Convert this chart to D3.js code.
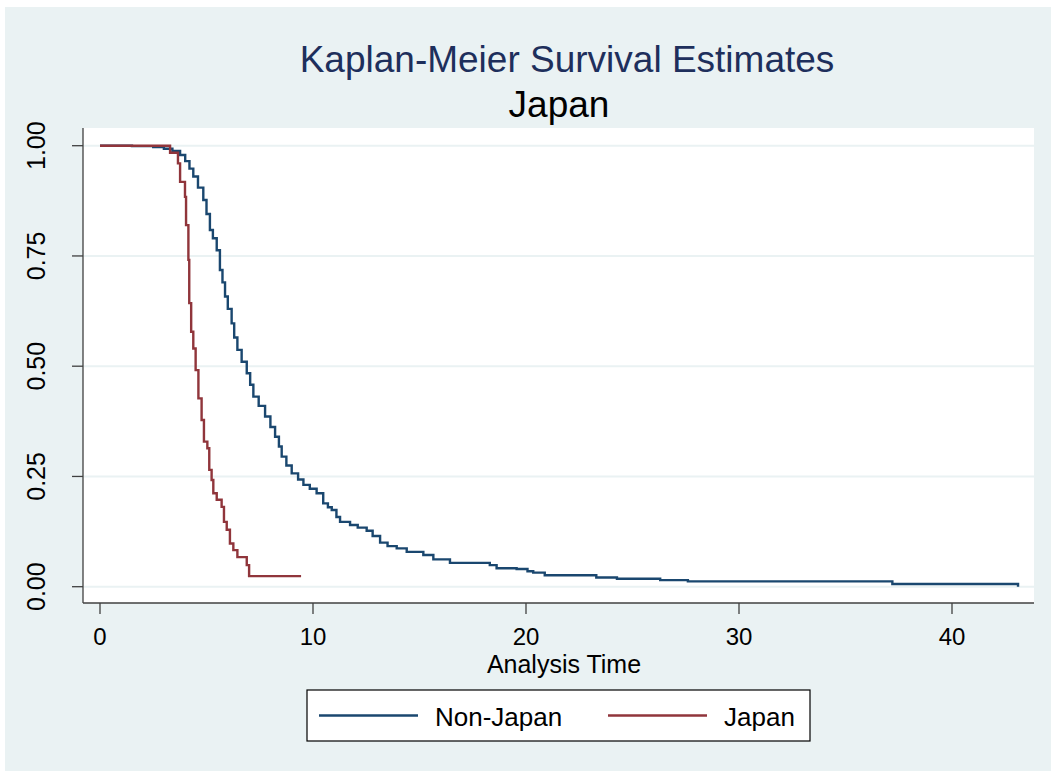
<!DOCTYPE html>
<html>
<head>
<meta charset="utf-8">
<script src="https://cdn.jsdelivr.net/npm/d3@7/dist/d3.min.js"></script>
<style>
  html, body { margin: 0; padding: 0; background: #ffffff; }
  svg { display: block; }
  text { font-family: "Liberation Sans", Arial, Helvetica, sans-serif; }
</style>
</head>
<body>
<svg id="chart" width="1051" height="771"></svg>
<script>
// Kaplan-Meier step estimates: time at which each step starts, and survival from then on
const nonJapanTime = [0, 1.5, 2.5, 3.0, 3.4, 3.76, 4.0, 4.2, 4.38, 4.6, 4.85, 5.0, 5.16, 5.3, 5.48,
  5.63, 5.75, 5.87, 6.0, 6.18, 6.3, 6.45, 6.65, 6.89, 7.05, 7.2, 7.45, 7.75, 8.0, 8.22, 8.4,
  8.53, 8.75, 9.0, 9.3, 9.55, 9.85, 10.17, 10.48, 10.7, 10.88, 11.1, 11.27, 11.74, 12.1, 12.52,
  12.8, 13.15, 13.5, 13.93, 14.4, 15.18, 15.65, 16.43, 18.3, 18.62, 19.56, 20.07, 20.34, 20.88,
  23.3, 24.27, 26.3, 27.6, 37.2, 43.1];
const nonJapanSurv = [1.0, 0.999, 0.997, 0.993, 0.988, 0.979, 0.965, 0.948, 0.93, 0.905, 0.877, 0.845, 0.809, 0.79, 0.763,
  0.718, 0.69, 0.658, 0.63, 0.597, 0.565, 0.537, 0.51, 0.484, 0.458, 0.431, 0.41, 0.386, 0.362, 0.34, 0.318,
  0.295, 0.275, 0.257, 0.243, 0.231, 0.222, 0.212, 0.189, 0.18, 0.174, 0.158, 0.147, 0.14, 0.134, 0.127,
  0.115, 0.1, 0.092, 0.087, 0.079, 0.072, 0.062, 0.054, 0.049, 0.042, 0.04, 0.035, 0.032, 0.026,
  0.021, 0.018, 0.015, 0.012, 0.006, 0.0];

const japanTime = [0, 3.29, 3.66, 3.76, 3.99, 4.04, 4.15, 4.19, 4.28, 4.38, 4.49, 4.62, 4.77, 4.88,
  5.04, 5.13, 5.24, 5.32, 5.48, 5.71, 5.82, 5.95, 6.1, 6.26, 6.45, 6.89, 7.0, 9.44];
const japanSurv = [1.0, 0.984, 0.96, 0.918, 0.884, 0.82, 0.741, 0.643, 0.578, 0.54, 0.491, 0.427, 0.378, 0.329,
  0.314, 0.265, 0.242, 0.212, 0.197, 0.181, 0.147, 0.129, 0.098, 0.083, 0.067, 0.049, 0.024, 0.024];

const groupNames = ["Non-Japan", "Japan"];
const groupColors = ["#1a476f", "#90353b"];

const xTicks = [0, 10, 20, 30, 40];
const yTicks = [0, 0.25, 0.5, 0.75, 1.0];
const yTickLabels = ["0.00", "0.25", "0.50", "0.75", "1.00"];

const titleText = "Kaplan-Meier Survival Estimates";
const subtitleText = "Japan";
const xAxisTitle = "Analysis Time";

const svg = d3.select("#chart");

// graph region background
svg.append("rect").attr("x", 5).attr("y", 7).attr("width", 1046).attr("height", 764).attr("fill", "#eaf2f3");

const plot = { left: 83, right: 1034, top: 128, bottom: 603 };
svg.append("rect")
  .attr("x", plot.left).attr("y", plot.top)
  .attr("width", plot.right - plot.left).attr("height", plot.bottom - plot.top)
  .attr("fill", "#ffffff");

const x = d3.scaleLinear().domain([0, 40]).range([100, 952]);
const y = d3.scaleLinear().domain([0, 1]).range([586.7, 145.7]);

// horizontal grid lines
svg.append("g").selectAll("line").data(yTicks).join("line")
  .attr("x1", plot.left).attr("x2", plot.right)
  .attr("y1", d => y(d)).attr("y2", d => y(d))
  .attr("stroke", "#eaf2f3").attr("stroke-width", 2);

// survival curves
const series = [
  nonJapanTime.map((t, i) => [t, nonJapanSurv[i]]),
  japanTime.map((t, i) => [t, japanSurv[i]])
];
const line = d3.line().x(d => x(d[0])).y(d => y(d[1])).curve(d3.curveStepAfter);
svg.append("g").selectAll("path").data(series).join("path")
  .attr("d", line)
  .attr("fill", "none")
  .attr("stroke", (d, i) => groupColors[i])
  .attr("stroke-width", 2.4)
  .attr("stroke-linejoin", "miter");

// y axis
const yAxis = svg.append("g").attr("transform", `translate(${plot.left},0)`);
yAxis.append("line").attr("x1", 0).attr("x2", 0).attr("y1", plot.top).attr("y2", plot.bottom)
  .attr("stroke", "#404040").attr("stroke-width", 1.3);
yAxis.selectAll("line.tick").data(yTicks).join("line").attr("class", "tick")
  .attr("x1", -11).attr("x2", 0).attr("y1", d => y(d)).attr("y2", d => y(d))
  .attr("stroke", "#404040").attr("stroke-width", 1.3);
yAxis.selectAll("text").data(yTicks).join("text")
  .attr("transform", d => `translate(-38,${y(d)}) rotate(-90)`)
  .attr("text-anchor", "middle")
  .attr("font-size", 25)
  .attr("fill", "#000")
  .text((d, i) => yTickLabels[i]);

// x axis
const xAxis = svg.append("g").attr("transform", `translate(0,${plot.bottom})`);
xAxis.append("line").attr("x1", plot.left).attr("x2", plot.right).attr("y1", 0).attr("y2", 0)
  .attr("stroke", "#404040").attr("stroke-width", 1.3);
xAxis.selectAll("line.tick").data(xTicks).join("line").attr("class", "tick")
  .attr("x1", d => x(d)).attr("x2", d => x(d)).attr("y1", 0).attr("y2", 11)
  .attr("stroke", "#404040").attr("stroke-width", 1.3);
xAxis.selectAll("text").data(xTicks).join("text")
  .attr("x", d => x(d)).attr("y", 42)
  .attr("text-anchor", "middle")
  .attr("font-size", 24)
  .attr("fill", "#000")
  .text(d => d);

svg.append("text").attr("x", 564).attr("y", 673)
  .attr("text-anchor", "middle").attr("font-size", 25).attr("fill", "#000")
  .text(xAxisTitle);

// titles
svg.append("text").attr("x", 567).attr("y", 72)
  .attr("text-anchor", "middle").attr("font-size", 37).attr("fill", "#1e2f5c")
  .text(titleText);
svg.append("text").attr("x", 559).attr("y", 117)
  .attr("text-anchor", "middle").attr("font-size", 37).attr("fill", "#000")
  .text(subtitleText);

// legend
const legend = svg.append("g");
legend.append("rect").attr("x", 307).attr("y", 690).attr("width", 503).attr("height", 51)
  .attr("fill", "#ffffff").attr("stroke", "#000").attr("stroke-width", 1.2);
const legendItems = [
  { x1: 319, x2: 418, tx: 435 },
  { x1: 608, x2: 707, tx: 724 }
];
legend.selectAll("line").data(legendItems).join("line")
  .attr("x1", d => d.x1).attr("x2", d => d.x2).attr("y1", 715.5).attr("y2", 715.5)
  .attr("stroke", (d, i) => groupColors[i]).attr("stroke-width", 2.4);
legend.selectAll("text").data(legendItems).join("text")
  .attr("x", d => d.tx).attr("y", 725.5)
  .attr("font-size", 26).attr("fill", "#000")
  .text((d, i) => groupNames[i]);
</script>
</body>
</html>
